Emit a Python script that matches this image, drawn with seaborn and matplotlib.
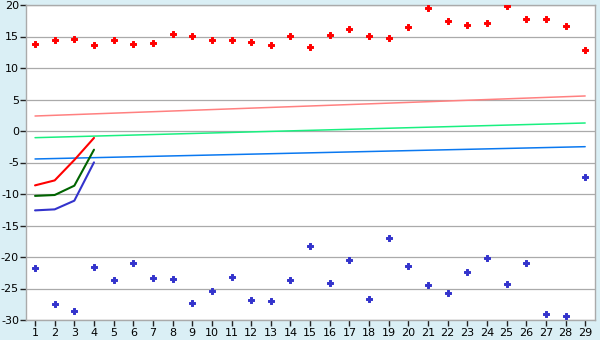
import matplotlib
matplotlib.use("Agg")
import matplotlib.pyplot as plt
import seaborn as sns
import numpy as np
import pandas as pd

# ---- data ----
days = list(range(1, 30))
red_points = [13.8, 14.45, 14.6, 13.65, 14.45, 13.8, 13.97, 15.4, 15.1,
              14.45, 14.45, 14.1, 13.65, 15.1, 13.3, 15.25, 16.2, 15.1, 14.75,
              16.5, 19.5, 17.45, 16.8, 17.1, 19.85, 17.8, 17.8, 16.65, 12.85]
blue_points = [-21.75, -27.46, -28.57, -21.59, -23.65, -20.95, -23.33, -23.49, -27.3,
               -25.4, -23.17, -26.83, -26.98, -23.65, -18.25, -24.13, -20.48, -26.67, -16.98,
               -21.43, -24.44, -25.71, -22.38, -20.16, -24.29, -20.95, -29.05, -29.37, -7.3]

curve_days = [1, 2, 3, 4]
red_curve = [-8.63, -7.84, -4.6, -1.1]
green_curve = [-10.3, -10.16, -8.68, -2.97]
blue_curve = [-12.6, -12.44, -11.06, -4.98]

trend_days = [1, 29]
pink_trend = [2.38, 5.56]
green_trend = [-1.06, 1.27]
blue_trend = [-4.44, -2.49]

y_ticks = [-30, -25, -20, -15, -10, -5, 0, 5, 10, 15, 20]

# ---- style ----
bg = "#daeff5"
sns.set_style("white")
plt.rcParams["font.family"] = ["DejaVu Sans"]

fig = plt.figure(figsize=(6, 3.4), dpi=100, facecolor=bg)
ax = fig.add_axes([26 / 600, 1 - 320 / 340, (595 - 26) / 600, (320 - 5) / 340])
ax.set_facecolor("white")

# trend lines
for vals, col in [(pink_trend, "#ff8080"), (green_trend, "#19f080"), (blue_trend, "#0a78f0")]:
    sns.lineplot(x=trend_days, y=vals, color=col, linewidth=1.1, ax=ax)

# curves
for vals, col in [(red_curve, "#ff0000"), (green_curve, "#006400"), (blue_curve, "#3333cc")]:
    sns.lineplot(x=curve_days, y=vals, color=col, linewidth=1.5, ax=ax)

# scatter points
sns.scatterplot(x=days, y=red_points, marker="P", s=20, color="#ff0000",
                edgecolor="#ff0000", linewidth=0.7, ax=ax, zorder=5)
sns.scatterplot(x=days, y=blue_points, marker="P", s=20, color="#3333cc",
                edgecolor="#3333cc", linewidth=0.7, ax=ax, zorder=5)

ax.set_xlim(0.54, 29.5)
ax.set_ylim(-30, 20)
ax.set_xticks(days)
ax.set_xticklabels([str(d) for d in days])
ax.set_yticks(y_ticks)
ax.set_yticklabels([str(t) for t in y_ticks])
ax.yaxis.grid(True, color="#aaaaaa", linewidth=0.9)
ax.xaxis.grid(False)
ax.set_axisbelow(True)
for s in ax.spines.values():
    s.set_color("#aaaaaa")
    s.set_linewidth(1.0)
ax.tick_params(axis="both", which="both", direction="out", length=4, width=1,
               color="#222222", labelsize=8, labelcolor="black", pad=2,
               left=True, bottom=True)
ax.tick_params(axis="y", pad=1)

fig.savefig("out.png", dpi=100, facecolor=bg)
